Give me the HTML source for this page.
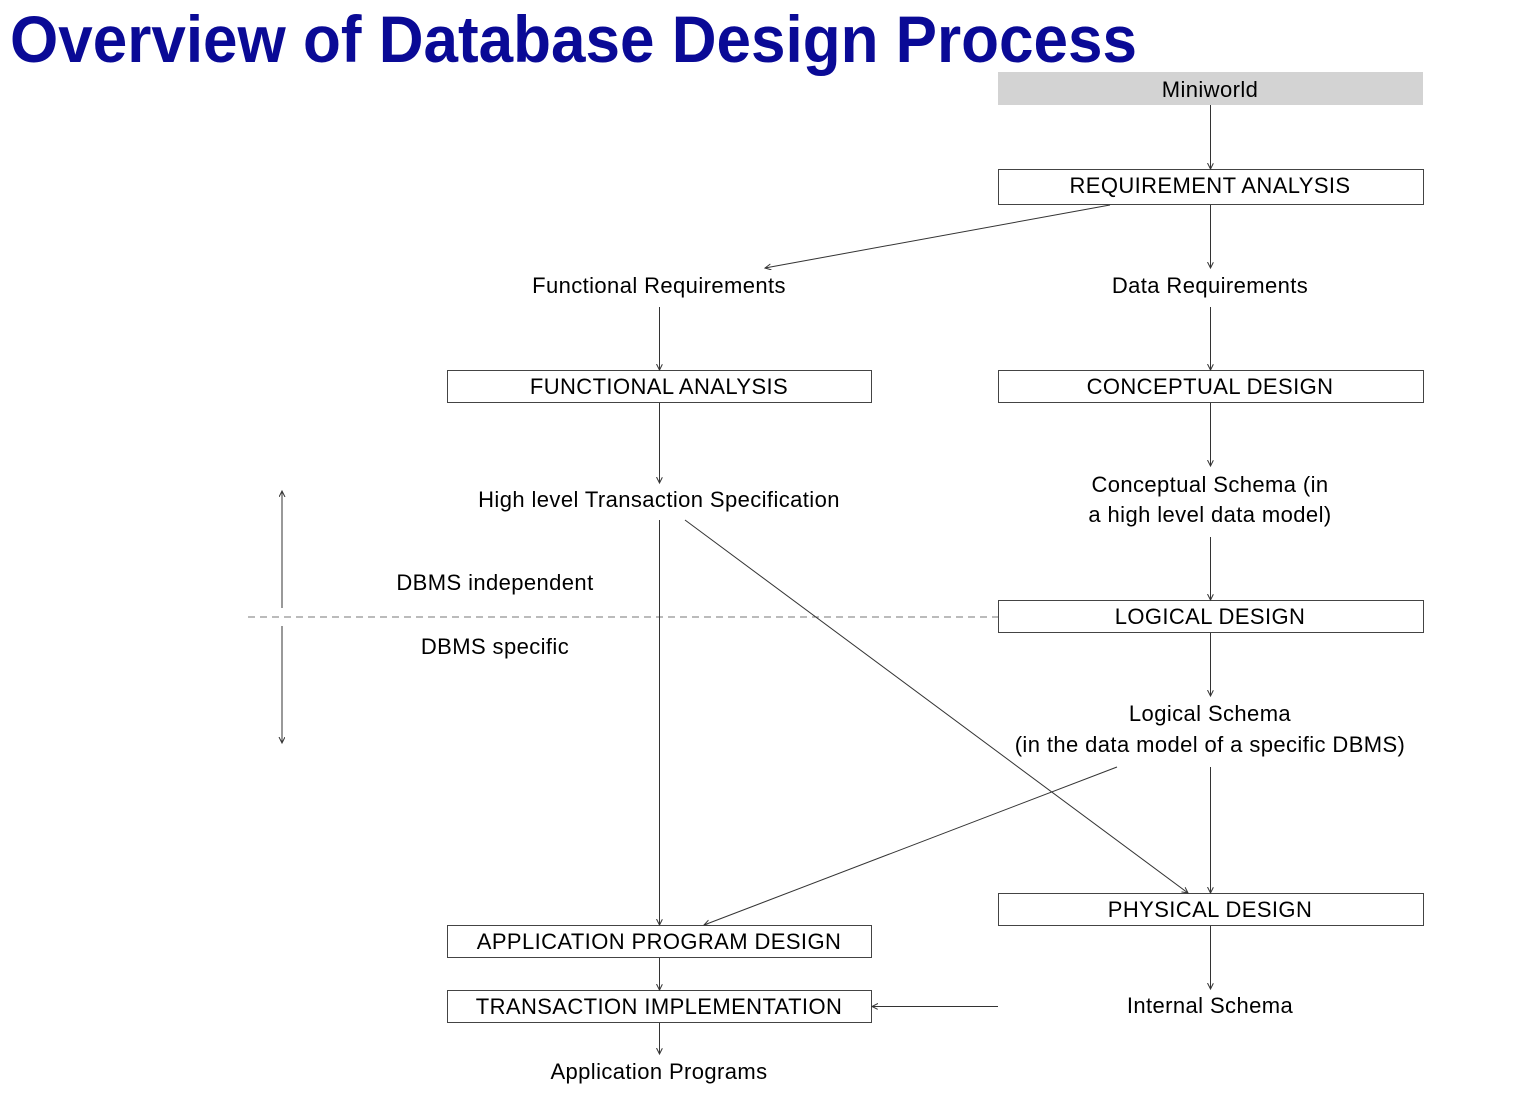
<!DOCTYPE html>
<html><head><meta charset="utf-8"><style>
html,body{margin:0;padding:0;background:#fff;}
svg{display:block;}
text{font-family:"Liberation Sans",sans-serif;}
.t{font-size:22px;fill:#000;text-anchor:middle;letter-spacing:0.4px;}
.b{fill:#fff;stroke:#444;stroke-width:1;}
.l{stroke:#333;stroke-width:1;fill:none;marker-end:url(#a);}
</style></head><body>
<svg width="1521" height="1110" viewBox="0 0 1521 1110" xmlns="http://www.w3.org/2000/svg">
<defs><marker id="a" markerWidth="8" markerHeight="8" refX="6" refY="3" orient="auto" markerUnits="userSpaceOnUse"><path d="M0,0 L6,3 L0,6" fill="none" stroke="#333" stroke-width="1"/></marker></defs>
<text x="10" y="62" font-size="66" font-weight="bold" fill="#0a0a96" textLength="1127" lengthAdjust="spacingAndGlyphs">Overview of Database Design Process</text>

<rect x="998" y="72" width="425" height="33" fill="#d3d3d3"/>
<text class="t" x="1210" y="97">Miniworld</text>
<rect class="b" x="998.5" y="169.5" width="425" height="35"/>
<text class="t" x="1210" y="193">REQUIREMENT ANALYSIS</text>
<text class="t" x="659" y="293">Functional Requirements</text>
<text class="t" x="1210" y="293">Data Requirements</text>
<rect class="b" x="447.5" y="370.5" width="424" height="32"/>
<text class="t" x="659" y="394">FUNCTIONAL ANALYSIS</text>
<rect class="b" x="998.5" y="370.5" width="425" height="32"/>
<text class="t" x="1210" y="394">CONCEPTUAL DESIGN</text>
<text class="t" x="659" y="507">High level Transaction Specification</text>
<text class="t" x="1210" y="492">Conceptual Schema (in</text>
<text class="t" x="1210" y="522">a high level data model)</text>
<text class="t" x="495" y="590">DBMS independent</text>
<text class="t" x="495" y="654">DBMS specific</text>
<line x1="248" y1="617" x2="998" y2="617" stroke="#777" stroke-dasharray="7,5"/>
<rect class="b" x="998.5" y="600.5" width="425" height="32"/>
<text class="t" x="1210" y="624">LOGICAL DESIGN</text>
<text class="t" x="1210" y="721">Logical Schema</text>
<text class="t" x="1210" y="752">(in the data model of a specific DBMS)</text>
<rect class="b" x="998.5" y="893.5" width="425" height="32"/>
<text class="t" x="1210" y="917">PHYSICAL DESIGN</text>
<rect class="b" x="447.5" y="925.5" width="424" height="32"/>
<text class="t" x="659" y="949">APPLICATION PROGRAM DESIGN</text>
<rect class="b" x="447.5" y="990.5" width="424" height="32"/>
<text class="t" x="659" y="1014">TRANSACTION IMPLEMENTATION</text>
<text class="t" x="1210" y="1013">Internal Schema</text>
<text class="t" x="659" y="1079">Application Programs</text>

<line class="l" x1="282" y1="608" x2="282" y2="491"/>
<line class="l" x1="282" y1="626" x2="282" y2="743"/>
<line class="l" x1="1210.5" y1="105" x2="1210.5" y2="169"/>
<line class="l" x1="1110" y1="205" x2="765" y2="268"/>
<line class="l" x1="1210.5" y1="205" x2="1210.5" y2="268"/>
<line class="l" x1="659.5" y1="307" x2="659.5" y2="370"/>
<line class="l" x1="1210.5" y1="307" x2="1210.5" y2="370"/>
<line class="l" x1="659.5" y1="403" x2="659.5" y2="483"/>
<line class="l" x1="1210.5" y1="403" x2="1210.5" y2="466"/>
<line class="l" x1="1210.5" y1="537" x2="1210.5" y2="600"/>
<line class="l" x1="659.5" y1="520" x2="659.5" y2="925"/>
<line class="l" x1="685" y1="520" x2="1188" y2="893"/>
<line class="l" x1="1210.5" y1="633" x2="1210.5" y2="696"/>
<line class="l" x1="1117" y1="767" x2="704" y2="925"/>
<line class="l" x1="1210.5" y1="767" x2="1210.5" y2="893"/>
<line class="l" x1="1210.5" y1="926" x2="1210.5" y2="989"/>
<line class="l" x1="659.5" y1="958" x2="659.5" y2="990"/>
<line class="l" x1="998" y1="1006.5" x2="872" y2="1006.5"/>
<line class="l" x1="659.5" y1="1023" x2="659.5" y2="1054"/>
</svg>
</body></html>
